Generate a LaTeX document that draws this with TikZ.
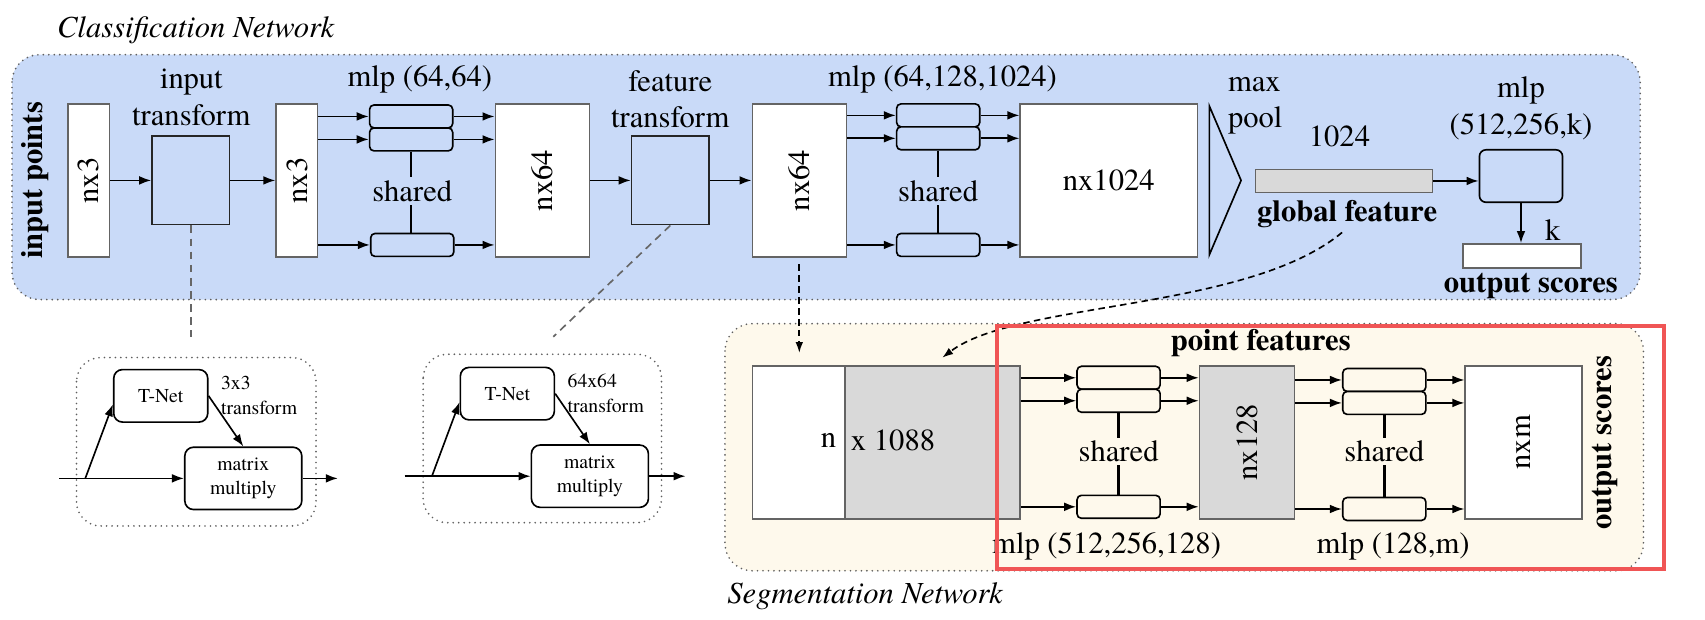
\documentclass[tikz,border=0pt]{standalone}
\usepackage{fontspec}
\IfFontExistsTF{texgyretermes-regular.otf}{%
  \setmainfont{texgyretermes-regular.otf}[BoldFont=texgyretermes-bold.otf,
    ItalicFont=texgyretermes-italic.otf, BoldItalicFont=texgyretermes-bolditalic.otf]}{%
  \setmainfont{Liberation Serif}}
\usetikzlibrary{arrows.meta,calc}
\definecolor{bluebg}{RGB}{201,218,248}
\definecolor{creambg}{RGB}{254,249,236}
\definecolor{grayfill}{RGB}{217,217,217}
\definecolor{bordergray}{RGB}{100,100,100}
\definecolor{dotgray}{RGB}{95,95,95}
\definecolor{redbox}{RGB}{240,85,85}
\newcommand\fmain{\fontsize{28}{33}\selectfont}
\newcommand\fsmall{\fontsize{18}{22.5}\selectfont}
\begin{document}
\begin{tikzpicture}[x=1pt,y=1pt,
  txt/.style={font=\fmain, inner sep=0pt},
  btxt/.style={font=\fmain\bfseries, inner sep=0pt},
  itxt/.style={font=\fmain\itshape, inner sep=0pt},
  stxt/.style={font=\fsmall, inner sep=0pt},
  tall/.style={draw=bordergray, fill=white, line width=1.4pt, inner sep=0pt,
    minimum width=#1, minimum height=140pt, font=\fmain},
  flat/.style={draw=bordergray, line width=1.4pt, inner sep=0pt, minimum height=21pt},
  mbox/.style={draw=black, rounded corners=4pt, line width=1.5pt, inner sep=0pt,
    minimum width=76pt, minimum height=21pt, fill=#1},
  tbox/.style={draw=black!85, fill=bluebg, line width=1.4pt, minimum width=71pt, minimum height=81pt},
  sbox/.style={draw=black, rounded corners=8pt, line width=1.5pt, font=\fsmall, inner sep=0pt},
  arr/.style={-{Latex[length=11pt,width=8pt]}, line width=1.5pt},
  shline/.style={line width=2.4pt},
  dotbox/.style={draw=dotgray, line width=1.7pt, dash pattern=on 0pt off 5pt, line cap=round},
  gdash/.style={draw=black!60, line width=1.5pt, dash pattern=on 7pt off 5pt},
  kdash/.style={draw=black, line width=1.5pt, dash pattern=on 6pt off 4pt, -{Latex[length=10pt,width=7pt]}},
  shtxt/.style={font=\fmain, inner xsep=1pt, inner ysep=3pt, fill=#1}
]
\useasboundingbox (0,0) rectangle (1559.3,-567);

% ---------- backgrounds ----------
\draw[dotbox, fill=bluebg, rounded corners=25pt] (11,-50) rectangle (1500,-274);
\draw[dotbox, fill=creambg, rounded corners=25pt] (663,-296) rectangle (1503,-522);
\draw[dotbox, rounded corners=22pt] (70,-327) rectangle (289,-481);
\draw[dotbox, rounded corners=22pt] (387,-324) rectangle (605,-478);

\node[itxt, anchor=west] (clt) at (52,-27.5) {Classification Network};
\node[itxt, anchor=west] (sgt) at (665,-545) {Segmentation Network};

% ---------- classification network ----------
\node[btxt, rotate=90] (inpts) at (32,-165) {input points};
\node[tall=38pt] (nxa) at (81,-165) {\rotatebox{90}{nx3}};
\node[txt, align=center] (itl) at (175,-89) {input\\transform};
\node[tbox] (tr1) at (174.5,-165) {};
\node[tall=38pt] (nxb) at (271.5,-165) {\rotatebox{90}{nx3}};
\node[txt] (ml1) at (384,-73) {mlp (64,64)};
\node[mbox=bluebg] (a1) at (376,-106.5) {};
\node[mbox=bluebg] (b1) at (376,-127.5) {};
\node[mbox=bluebg] (c1) at (377,-224) {};
\node[tall=86pt] (nx64a) at (496,-165) {\rotatebox{90}{nx64}};
\node[txt, align=center] (ftl) at (613,-91) {feature\\transform};
\node[tbox] (tr2) at (613,-165) {};
\node[tall=86pt] (nx64b) at (731,-165) {\rotatebox{90}{nx64}};
\node[txt] (ml2) at (862,-73) {mlp (64,128,1024)};
\node[mbox=bluebg] (a2) at (858,-105.5) {};
\node[mbox=bluebg] (b2) at (858,-126.5) {};
\node[mbox=bluebg] (c2) at (858,-224) {};
\node[tall=162pt] (nx1024) at (1014,-165) {nx1024};
\draw[line width=1.5pt] (1106,-97) -- (1135,-165) -- (1106,-233) -- cycle;
\node[txt, align=left] (mp) at (1148,-97) {max\\pool};
\node[txt] (l1024) at (1225,-125) {1024};
\node[flat, fill=grayfill, minimum width=162pt] (gf) at (1229,-165.5) {};
\node[btxt] (gft) at (1232,-196) {global feature};
\node[txt, align=center] (m3l) at (1391,-99) {mlp\\(512,256,k)};
\node[draw=black, rounded corners=6pt, fill=bluebg, line width=1.5pt, minimum width=76pt, minimum height=48pt] (m3) at (1391,-161) {};
\node[flat, fill=white, minimum width=108pt, minimum height=22pt] (ob) at (1392,-234) {};
\node[txt] (kl) at (1420,-210) {k};
\node[btxt] (obt) at (1400,-262) {output scores};

\draw[arr] (nxa.east) -- (nxa.east -| tr1.west);
\draw[arr] (tr1.east) -- (tr1.east -| nxb.west);
\foreach \m in {a1,b1,c1}{
  \draw[arr] (nxb.east |- \m.west) -- (\m.west);
  \draw[arr] (\m.east) -- (\m.east -| nx64a.west);
}
\draw[shline] (b1.south) -- (b1.south |- c1.north);
\node[shtxt=bluebg] (sh1) at (377,-175) {shared};
\draw[arr] (nx64a.east) -- (nx64a.east -| tr2.west);
\draw[arr] (tr2.east) -- (tr2.east -| nx64b.west);
\foreach \m in {a2,b2,c2}{
  \draw[arr] (nx64b.east |- \m.west) -- (\m.west);
  \draw[arr] (\m.east) -- (\m.east -| nx1024.west);
}
\draw[shline] (b2.south) -- (b2.south |- c2.north);
\node[shtxt=bluebg] (sh2) at (858,-175) {shared};
\draw[arr] (gf.east) -- (gf.east -| m3.west);
\draw[arr] (m3.south) -- (m3.south |- ob.north);

% ---------- transform sub-networks ----------
\node[sbox, minimum width=86pt, minimum height=48pt] (tn1) at (147,-362) {T-Net};
\node[sbox, minimum width=107pt, minimum height=57pt, align=center] (mm1) at (222.5,-437.5) {matrix\\multiply};
\node[stxt, align=left, anchor=west] (t33) at (202,-361.5) {3x3\\transform};
\coordinate (in1) at (54,-437.5);
\coordinate (br1) at (78,-437.5);
\coordinate (out1) at (309,-437.5);
\draw[line width=1.5pt] (in1) -- (br1);
\draw[arr] (br1) -- (mm1.west);
\draw[arr] (br1) -- ($(tn1.south west)+(0,17)$);
\draw[arr] (tn1.east) -- (mm1.north);
\draw[arr] (mm1.east) -- (out1);

\node[sbox, minimum width=86pt, minimum height=48pt] (tn2) at (464,-360) {T-Net};
\node[sbox, minimum width=107pt, minimum height=57pt, align=center] (mm2) at (539.5,-435.5) {matrix\\multiply};
\node[stxt, align=left, anchor=west] (t64) at (519,-359.5) {64x64\\transform};
\coordinate (in2) at (370,-435.5);
\coordinate (br2) at (395,-435.5);
\coordinate (out2) at (627,-435.5);
\draw[line width=1.5pt] (in2) -- (br2);
\draw[arr] (br2) -- (mm2.west);
\draw[arr] (br2) -- ($(tn2.south west)+(0,17)$);
\draw[arr] (tn2.east) -- (mm2.north);
\draw[arr] (mm2.east) -- (out2);

\coordinate (d1) at (174.5,-308);
\coordinate (d2) at (506,-308);
\draw[gdash] (tr1.south) -- (d1);
\draw[gdash] (tr2.south) -- (d2);

% ---------- segmentation network ----------
\node[draw=bordergray, fill=white, line width=1.4pt, minimum width=85pt, minimum height=140pt] (sw) at (730.5,-404.5) {};
\node[draw=bordergray, fill=grayfill, line width=1.4pt, minimum width=160pt, minimum height=140pt] (sg) at (853,-404.5) {};
\node[txt, anchor=east] (sn) at (765,-403) {n};
\node[txt, anchor=west] (sx) at (778,-403) {x 1088};
\node[btxt] (pft) at (1153,-314) {point features};
\node[mbox=creambg] (a3) at (1023,-345.5) {};
\node[mbox=creambg] (b3) at (1023,-366.5) {};
\node[mbox=creambg] (c3) at (1023,-463.5) {};
\node[tall=87pt, fill=grayfill] (nx128) at (1140.5,-404.5) {\rotatebox{90}{nx128}};
\node[mbox=creambg] (a4) at (1266,-347.5) {};
\node[mbox=creambg] (b4) at (1266,-368.5) {};
\node[mbox=creambg] (c4) at (1266,-465.5) {};
\node[tall=107pt] (nxm) at (1393.5,-404.5) {\rotatebox{90}{nxm}};
\node[btxt, rotate=90] (ost) at (1468,-405) {output scores};
\node[txt] (ml3) at (1012,-500) {mlp (512,256,128)};
\node[txt] (ml4) at (1274,-500) {mlp (128,m)};

\foreach \m in {a3,b3,c3}{
  \draw[arr] (sg.east |- \m.west) -- (\m.west);
  \draw[arr] (\m.east) -- (\m.east -| nx128.west);
}
\foreach \m in {a4,b4,c4}{
  \draw[arr] (nx128.east |- \m.west) -- (\m.west);
  \draw[arr] (\m.east) -- (\m.east -| nxm.west);
}
\draw[shline] (b3.south) -- (c3.north);
\node[shtxt=creambg] (sh3) at (1023,-413) {shared};
\draw[shline] (b4.south) -- (c4.north);
\node[shtxt=creambg] (sh4) at (1266,-413) {shared};

\draw[kdash, shorten <=6pt, shorten >=11pt] (nx64b.south) -- (nx64b.south |- sw.north);
\draw[kdash, shorten <=6pt, shorten >=11pt] (gft.south) .. controls (1140,-285) and (930,-275) .. (sg.north);

\draw[draw=redbox, line width=3.5pt] (912,-298) rectangle (1522,-520);
\end{tikzpicture}
\end{document}
